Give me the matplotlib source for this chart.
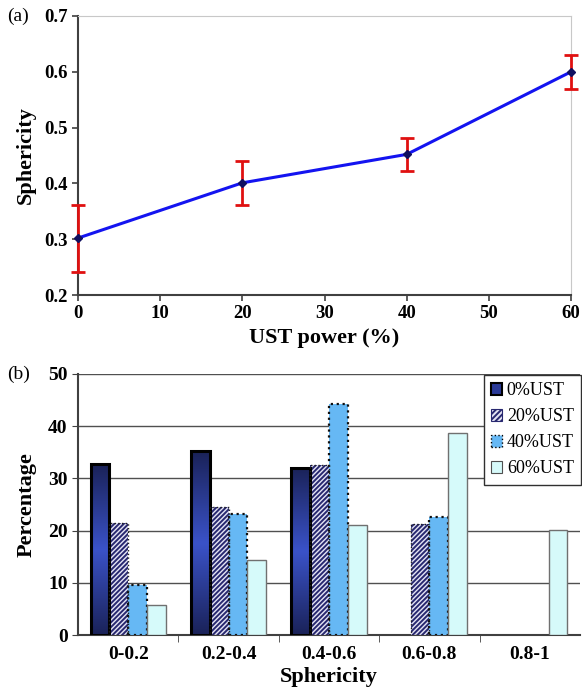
import numpy as np
import matplotlib.pyplot as plt
from matplotlib.patches import Patch
from matplotlib.colors import LinearSegmentedColormap

plt.rcParams['font.family'] = ['Liberation Serif', 'DejaVu Serif']
plt.rcParams['hatch.linewidth'] = 1.4

# (a) sphericity vs UST power
ust_power = [0, 20, 40, 60]
sphericity = [0.302, 0.401, 0.452, 0.600]
sph_err = [0.06, 0.04, 0.03, 0.03]

# (b) sphericity distribution
bins = ['0-0.2', '0.2-0.4', '0.4-0.6', '0.6-0.8', '0.8-1']
series_names = ['0%UST', '20%UST', '40%UST', '60%UST']
pct_0 = [32.7, 35.2, 32.0, 0, 0]
pct_20 = [21.5, 24.5, 32.5, 21.3, 0]
pct_40 = [9.5, 23.2, 44.3, 22.7, 0]
pct_60 = [5.7, 14.3, 21.0, 38.7, 20.1]

fig = plt.figure(figsize=(5.82, 6.93), dpi=100)

# ---- panel (a)
ax1 = fig.add_axes([78/582, 1-295/693, (571-78)/582, (295-16)/693])
eb = ax1.errorbar(ust_power, sphericity, yerr=sph_err, fmt='none', ecolor='#e01010',
                  elinewidth=2, capsize=5, capthick=2, zorder=4)
for art in eb.lines[1] + eb.lines[2]:
    art.set_clip_on(False)
ax1.plot(ust_power, sphericity, color='#1414f0', lw=2.2, marker='D', ms=4,
         mfc='#101060', mec='#101060', zorder=5, clip_on=False)
ax1.set_xlim(0, 60)
ax1.set_ylim(0.2, 0.7)
ax1.set_xticks(range(0, 61, 10))
ax1.set_yticks([0.2, 0.3, 0.4, 0.5, 0.6, 0.7])
ax1.set_yticklabels(['0.2', '0.3', '0.4', '0.5', '0.6', '0.7'])
for s in ['top', 'right']:
    ax1.spines[s].set_color('#c8c8c8')
for s in ['left', 'bottom']:
    ax1.spines[s].set_color('#404040')
    ax1.spines[s].set_linewidth(1.5)
ax1.tick_params(direction='out', length=4, width=1.2, labelsize=13.5, color='#404040')
for lab in ax1.get_xticklabels() + ax1.get_yticklabels():
    lab.set_fontweight('bold')
ax1.set_xlabel('UST power (%)', fontsize=16, fontweight='bold', labelpad=4)
ax1.set_ylabel('Sphericity', fontsize=16, fontweight='bold', labelpad=6)
fig.text(7/582, 1-16/693, '(a)', fontsize=14, va='center', ha='left')

# ---- panel (b)
ax2 = fig.add_axes([78/582, 1-635/693, (580-78)/582, (635-374)/693])
x = np.arange(len(bins))
w = 0.1875
offs = [-1.5*w, -0.5*w, 0.5*w, 1.5*w]

# vertical gradient for the 0% bars
grad = np.abs(np.linspace(-1, 1, 200))[:, None]
cmap_dark = LinearSegmentedColormap.from_list('dk', ['#3a52c8', '#1a2258'])
bars0 = ax2.bar(x + offs[0], pct_0, w, color='none', edgecolor='black', lw=2.2, zorder=4)
for b in bars0:
    h = b.get_height()
    if h <= 0:
        continue
    bx = b.get_x()
    ax2.imshow(grad, cmap=cmap_dark, aspect='auto', zorder=3,
               extent=[bx, bx + b.get_width(), 0, h], interpolation='bilinear')

bars20 = ax2.bar(x + offs[1], pct_20, w, color='#e4e4f4', edgecolor='#282870',
                 hatch='///////', lw=0, zorder=3)
bars20e = ax2.bar(x + offs[1], pct_20, w, color='none', edgecolor='#202020', lw=1, ls=':', zorder=4)
bars40 = ax2.bar(x + offs[2], pct_40, w, color='#66b8f4', edgecolor='#101010',
                 lw=1.6, ls=':', zorder=3)
bars60 = ax2.bar(x + offs[3], pct_60, w, color='#d6fafa', edgecolor='#707070',
                 lw=1, zorder=3)
for bs, vals in [(bars0, pct_0), (bars20, pct_20), (bars20e, pct_20),
                 (bars40, pct_40), (bars60, pct_60)]:
    for b, v in zip(bs, vals):
        if v <= 0:
            b.set_visible(False)

ax2.set_xlim(-0.5, len(bins) - 0.5)
ax2.set_ylim(0, 50)
ax2.set_yticks(range(0, 51, 10))
ax2.yaxis.grid(True, color='#505050', lw=1)
ax2.set_axisbelow(True)
ax2.set_xticks(x)
ax2.set_xticklabels(bins)
ax2.set_xticks(np.arange(0.5, len(bins) - 0.5, 1), minor=True)
ax2.tick_params(axis='x', which='major', length=0, pad=8, labelsize=14)
ax2.tick_params(axis='x', which='minor', length=5, direction='out', color='#404040')
ax2.tick_params(axis='y', length=4, direction='out', labelsize=14, color='#404040')
for lab in ax2.get_xticklabels() + ax2.get_yticklabels():
    lab.set_fontweight('bold')
for s in ['top', 'right']:
    ax2.spines[s].set_visible(False)
for s in ['left', 'bottom']:
    ax2.spines[s].set_color('#404040')
    ax2.spines[s].set_linewidth(1.5)
ax2.set_xlabel('Sphericity', fontsize=16, fontweight='bold', labelpad=3)
ax2.set_ylabel('Percentage', fontsize=16, fontweight='bold', labelpad=8)
fig.text(7/582, 1-374/693, '(b)', fontsize=14, va='center', ha='left')

handles = [
    Patch(facecolor='#2a3a98', edgecolor='black', lw=1.5),
    Patch(facecolor='#e4e4f4', edgecolor='#282870', hatch='//////', lw=0.8),
    Patch(facecolor='#66b8f4', edgecolor='black', ls=':', lw=1),
    Patch(facecolor='#d6fafa', edgecolor='#505050', lw=0.8),
]
leg = ax2.legend(handles, series_names, loc='upper right',
                 bbox_to_anchor=(581/582, 1-375/693), bbox_transform=fig.transFigure,
                 fontsize=13, frameon=True, fancybox=False, edgecolor='#303030',
                 handlelength=0.6, handleheight=0.6, handletextpad=0.25,
                 labelspacing=0.5, borderpad=0.4, borderaxespad=0, framealpha=1)
leg.get_frame().set_linewidth(1)
leg.set_zorder(10)

fig.savefig('out.png', dpi=100)
